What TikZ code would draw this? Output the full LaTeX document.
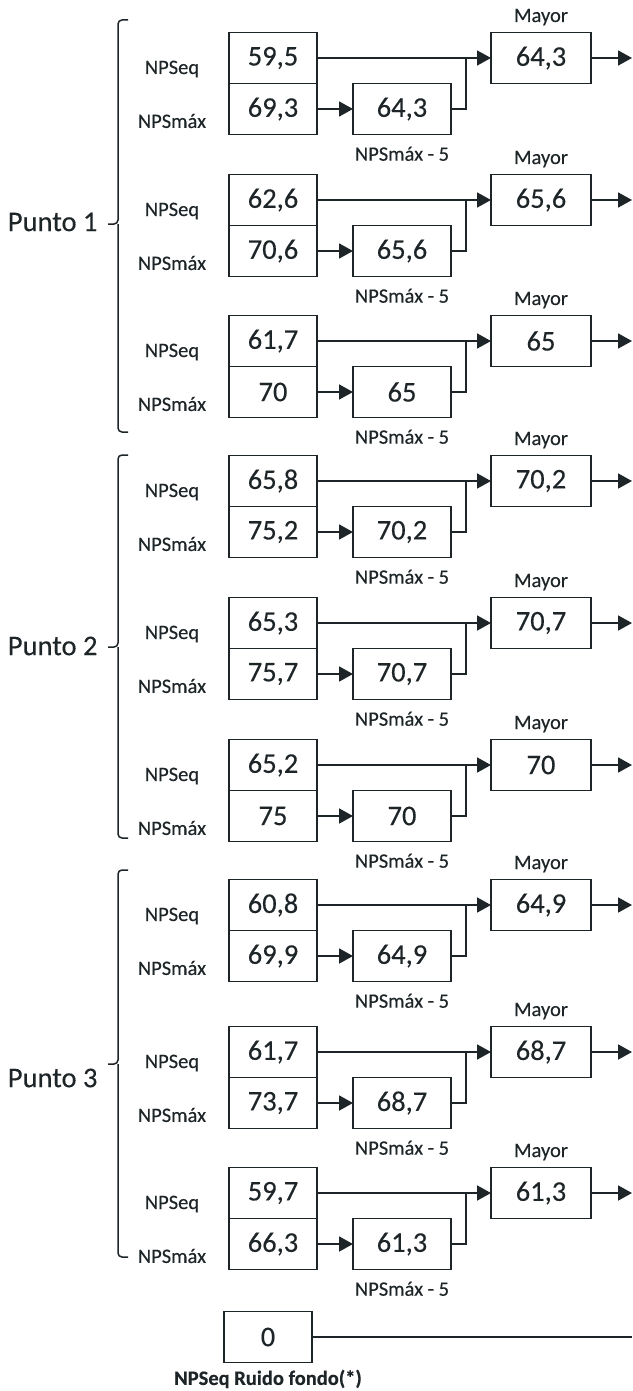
\documentclass[tikz,border=0pt]{standalone}
\usepackage{fontspec}
\setmainfont{Carlito}[FakeBold=0.3]
\usetikzlibrary{positioning,arrows.meta}
\definecolor{ink}{HTML}{1E2528}
\tikzset{
  valbox/.style={draw=ink, line width=1.9pt, minimum width=88pt, minimum height=51pt,
    outer sep=0pt, inner sep=0pt, font=\fontsize{28.5}{30}\selectfont, text=ink},
  redbox/.style={valbox, minimum width=98pt},
  maybox/.style={valbox, minimum width=100pt},
  lbl/.style={font=\fontsize{20.5}{22}\selectfont, text=ink, inner sep=0pt},
  link/.style={draw=ink, line width=1.8pt, -{Triangle[length=14pt,width=15pt]}},
  wire/.style={draw=ink, line width=1.5pt},
}
\begin{document}
\begin{tikzpicture}[x=1pt,y=1pt]
  \useasboundingbox (0,0) rectangle (632,-1391);

  % one block per measurement: NPSeq, NPSmax, NPSmax - 5
  \foreach \i/\t/\eq/\mx/\rd in {1/33/{59,5}/{69,3}/{64,3}, 2/175/{62,6}/{70,6}/{65,6},
      3/316/{61,7}/{70}/{65}, 4/456/{65,8}/{75,2}/{70,2}, 5/598/{65,3}/{75,7}/{70,7},
      6/740/{65,2}/{75}/{70}, 7/880/{60,8}/{69,9}/{64,9}, 8/1027/{61,7}/{73,7}/{68,7},
      9/1168/{59,7}/{66,3}/{61,3}}{
    \node[valbox] (eq\i) at (273,-\t-25) {\eq};
    \node[valbox, below=0pt of eq\i] (mx\i) {\mx};
    \node[redbox, right=36pt of mx\i] (rd\i) {\rd};
    \node[maybox, right=174pt of eq\i] (my\i) {\rd};

    \node[lbl] (leq\i) at (172,-\t-36) {NPSeq};
    \node[lbl] (lmx\i) at (172,-\t-88) {NPSmáx};
    \node[lbl, above=7pt of my\i] (lmy\i) {Mayor};
    \node[lbl, below=12pt of rd\i] (lrd\i) {NPSmáx - 5};

    \coordinate (j\i) at (466,-\t-25);
    \coordinate (o\i) at (632,-\t-25);

    \draw[link] (eq\i) -- (my\i);
    \draw[link] (mx\i) -- (rd\i);
    \draw[wire] (rd\i.east) -| (j\i);
    \draw[link] (my\i) -- (o\i);
  }

  % braces for each point
  \foreach \k/\top/\mid/\bot/\lab in {1/20/224/432/222, 2/455/647/838/646, 3/870/1064/1257/1078}{
    \draw[wire, rounded corners=4pt] (128,-\top) -- (118,-\top) -- (118,-\mid) -- (108,-\mid);
    \draw[wire, rounded corners=4pt] (118,-\mid) -- (118,-\bot) -- (128,-\bot);
    \node[font=\fontsize{28.5}{30}\selectfont, text=ink, anchor=east] (p\k) at (101,-\lab) {Punto \k};
  }

  % background noise
  \node[valbox] (bg) at (268,-1337) {0};
  \node[lbl, font=\fontsize{20.5}{22}\selectfont\bfseries, below=7pt of bg] (lbg) {NPSeq Ruido fondo(*)};
  \coordinate (bgout) at (632,-1337);
  \draw[wire] (bg) -- (bgout);
\end{tikzpicture}
\end{document}
